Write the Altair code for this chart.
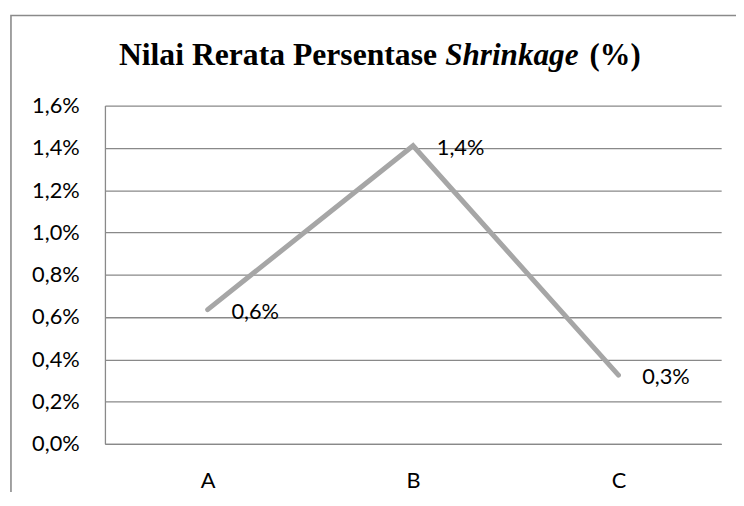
import altair as alt
import pandas as pd

# ---- data ----
categories = ["A", "B", "C"]
shrinkage = [0.00635, 0.0141, 0.00325]          # fractions (0.635 %, 1.41 %, 0.325 %)
y_ticks = [0.0, 0.002, 0.004, 0.006, 0.008, 0.010, 0.012, 0.014, 0.016]
title_parts = ["Nilai Rerata Persentase", "Shrinkage", "(%)"]

df = pd.DataFrame({"cat": categories, "v": shrinkage})

LABEL_FONT = "Lato"
SERIF = "Liberation Serif"
GRID = "#898989"
pct_comma = "replace(format({}, '.1%'), '.', ',')"

x_enc = alt.X(
    "cat:N",
    sort=categories,
    scale=alt.Scale(type="point", padding=0.5),
    axis=alt.Axis(
        title=None, labelAngle=0, ticks=False, grid=False,
        domainColor=GRID, domainWidth=1.3,
        labelFont=LABEL_FONT, labelFontSize=22, labelColor="#000000",
        labelPadding=27,
    ),
)
y_enc = alt.Y(
    "v:Q",
    scale=alt.Scale(domain=[0, 0.016], nice=False),
    axis=alt.Axis(
        title=None, values=y_ticks, ticks=False,
        labelExpr=pct_comma.format("datum.value"),
        grid=True, gridColor=GRID, gridWidth=1.3, gridOpacity=1,
        domain=True, domainColor=GRID, domainWidth=1.3,
        labelFont=LABEL_FONT, labelFontSize=22, labelColor="#000000",
        labelPadding=26,
    ),
)

base = alt.Chart(df)

line = base.mark_line(color="#a6a6a6", strokeWidth=5, strokeCap="round",
                      strokeJoin="miter").encode(x=x_enc, y=y_enc)

labels = base.transform_calculate(
    lbl=pct_comma.format("datum.v")
).mark_text(
    font=LABEL_FONT, fontSize=22, color="#000000",
    align="left", baseline="middle", dx=24, dy=2,
).encode(x=alt.X("cat:N", sort=categories), y="v:Q", text="lbl:N")

frame = alt.Chart(pd.DataFrame({"f": [0]})).mark_rect(
    fillOpacity=0, stroke="#8a8a8a", strokeWidth=1.6
).encode(
    x=alt.value(-95), x2=alt.value(700),
    y=alt.value(-91), y2=alt.value(520),
)

def title_piece(text, xpos, align, style, size):
    return alt.Chart(pd.DataFrame({"t": [text]})).mark_text(
        font=SERIF, fontSize=size, fontWeight="bold",
        fontStyle=style, align=align, baseline="alphabetic", color="#000000",
    ).encode(x=alt.value(xpos), y=alt.value(-41), text="t:N")

t1 = title_piece(title_parts[0], 335.7, "right", "normal", 32)
t2 = title_piece(title_parts[1], 344, "left", "oblique", 31.5)
t3 = title_piece(title_parts[2], 490, "left", "normal", 31)

chart = alt.layer(frame, line, labels, t1, t2, t3).properties(
    width=623, height=342,
    autosize=alt.AutoSizeParams(type="none"),
    padding={"left": 98, "top": 96, "right": 15, "bottom": 46},
).configure_view(stroke=None).resolve_scale(x="shared", y="shared")

chart.save("out.html", embed_options={"renderer": "svg", "actions": False})
